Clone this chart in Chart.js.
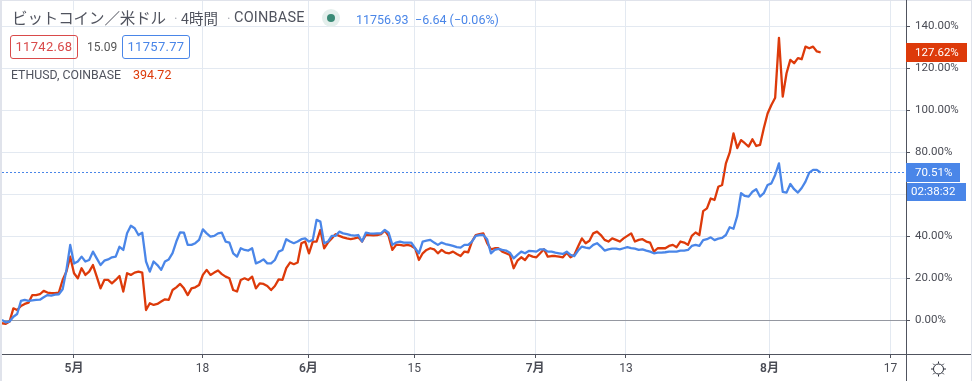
<!DOCTYPE html>
<html lang="ja">
<head>
<meta charset="utf-8">
<title>BTCUSD ETHUSD</title>
<script src="https://cdn.jsdelivr.net/npm/chart.js@4"></script>
<style>
  html, body { margin: 0; padding: 0; background: #fff; }
  #wrap { position: relative; width: 972px; height: 381px; overflow: hidden; }
  canvas { position: absolute; left: 0; top: 0; }
  .t { position: absolute; white-space: nowrap; font-family: Roboto, "Noto Sans CJK JP", sans-serif; line-height: 1; }
  .title { font-family: "Noto Sans CJK JP", Roboto, sans-serif; font-size: 15.5px; color: #50535e; top: 10px; background: rgba(255,255,255,.7); }
  .box { border: 1px solid; border-radius: 3px; box-sizing: border-box; height: 24px; top: 35px; width: 68px; text-align: center; font-size: 13px; line-height: 22px; letter-spacing: .3px; }
  .blue { color: #4a86e8; }
  .dot { position: absolute; border-radius: 50%; }
</style>
</head>
<body>
<div id="wrap">
  <canvas id="chart" width="972" height="381"></canvas>
  <span class="t title" style="left:12px;letter-spacing:-.1px">ビットコイン／米ドル</span>
  <span class="t title" style="left:173px;font-size:10px;top:13px;background:none;color:#9598a1">·</span>
  <span class="t title" style="left:181px;font-size:14.5px;top:11px">4時間</span>
  <span class="t title" style="left:226px;font-size:10px;top:13px;background:none;color:#9598a1">·</span>
  <span class="t title" style="left:234px;font-family:Roboto;font-size:14.5px;top:11px;letter-spacing:.2px">COINBASE</span>
  <span class="dot" style="left:322px;top:9px;width:18px;height:18px;background:#e4efec"></span>
  <span class="dot" style="left:327px;top:14px;width:8px;height:8px;background:#3a8a76"></span>
  <span class="t blue" style="left:356px;top:14px;font-size:12.5px">11756.93</span>
  <span class="t blue" style="left:415px;top:14px;font-size:12.5px">−6.64 (−0.06%)</span>
  <span class="t box" style="left:10px;color:#d94a4a;border-color:#d94a4a">11742.68</span>
  <span class="t" style="left:87px;top:41px;font-size:12px;color:#555">15.09</span>
  <span class="t box" style="left:122px;color:#4a86e8;border-color:#4a86e8">11757.77</span>
  <span class="t" style="left:11px;top:69px;font-size:12.3px;color:#50535e">ETHUSD, COINBASE</span>
  <span class="t" style="left:133px;top:69px;font-size:12.5px;color:#dd3a0a">394.72</span>
</div>
<script>
const firstDay = -9.52;   // days from 1 May to the left edge of the plot
const stepDays = 0.5013;

const btcPct = [
  0.2,-1,-0.6,1.7,3,9.2,9.7,9.2,9.5,9.7,9.8,11,12,11.7,12.2,12.4,14.8,24,35.9,27,
  28,30.3,28,28.7,32.7,29.5,26.3,28.4,29,30,30.3,35,33.5,41.4,45,43.8,40.6,41.7,28,23.2,
  28,26.3,24,28,29,32,37.5,41.9,41.7,35.9,35.9,36.7,38.3,43.3,41.4,39.8,40.2,41.4,41.7,37.5,
  37,31.9,30.3,34.3,33.5,33.2,34.3,27.1,27.9,29,27.1,27.1,28.7,32.7,33.5,38.6,37.5,36.7,37.5,38.6,
  39,37.5,38.3,47.8,47,36.7,37.5,40.2,40.2,42.2,41.4,41,40.5,40.3,40.6,37.5,41.7,41.4,41.3,41.4,
  41.4,43,41.7,35.9,37,37.5,37,37,37,34.3,31.9,37.5,37.9,38.3,37,35.9,37,36.3,35.9,35.4,
  34.8,34.6,35.9,35.9,37.5,40.2,40.6,40.6,38.6,31.9,33.5,34,33.5,33.2,32.2,29.5,31.1,32.7,31.9,33,
  32.9,32.7,33.8,33.8,32.7,32.7,32.2,31.9,31.6,32.7,31.1,30.6,33.2,35.1,34.6,34.3,35.9,36.7,35.1,33.2,
  33.8,34.1,34.1,33.8,34.3,34.8,34.4,34.1,33.5,33.8,33.2,32.7,31.9,32.2,32.2,32.4,32.7,32.7,32.7,33.2,
  33.2,33.5,35.4,35.9,35.4,38.2,38.6,39.5,38.2,38.9,39.2,40.6,44.3,43.6,49.7,60.5,59.2,58.9,61.2,62.4,
  58.9,60.5,64.4,65.2,69.2,74.7,61.2,60.8,64.9,62.4,60.8,63,66,70.3,71.6,71.6,70.3
];
const ethPct = [
  -1.4,-1.7,-0.6,5.7,4.9,6.8,7.8,8.4,12,12,12.4,14,13.2,12.9,12.9,13.2,19.2,23.2,30.3,22.4,
  20,24.8,21.6,23.2,26.3,20.8,15.2,19.2,19.2,17.6,19.2,21.1,13.7,22.4,21.6,22.7,23.2,22.7,4.9,8.1,
  7.3,7.8,8.9,10,9.7,14.4,15.7,17.3,15.2,12,15.2,15.7,16.8,21.6,24,21.6,22.7,23.7,22,20.8,
  20,14.4,13.7,19.2,20,19.2,20.8,15.2,17.6,17.3,16.3,14.4,16.3,19.5,19.2,24.8,27.5,26.7,27.5,36.7,
  37.5,31.9,37.5,37.5,43,34.3,37,39,41,40.2,39.5,39,38.7,39,39.5,37.5,40.6,40.6,40.5,40.6,
  41,42.7,40.2,33.5,35.9,35.9,35.6,35.9,35.4,34.3,28.7,31.9,33.5,34.3,33.8,31.9,33.5,32.2,31.9,32.7,
  31.6,30.6,32.7,32.4,37.5,40.6,41,41.4,36.7,33.8,34.3,34.3,32.7,31.9,31.1,24.8,28.4,30,28.7,31.1,
  30.3,30,31.9,33.8,30.3,30.6,30.6,30.3,30,32.2,30,31.1,35.1,39,36.7,37.9,41.4,42.2,40.6,38.3,
  37.5,39,38.3,37.5,39,40.2,41.4,37.5,38.3,38.6,37.5,37,32.7,34.3,34.3,34.3,35.4,35.9,34.8,37.5,
  37,35.9,40.2,41.8,40.6,52,53.3,58,57.3,63.6,64.4,74.7,79.8,89,82,85.8,84.3,82.7,86.2,83,
  83.5,91.4,98.5,102.5,106,134.5,106.5,117.6,124,122.4,124.8,124.3,130.3,129.5,130.3,128,127.6
];

const xTickDays = [0, 17, 31, 45, 61, 73, 92, 108];
const xTickLabels = ['5月', '18', '6月', '15', '7月', '13', '8月', '17'];
const yTickValues = [0, 20, 40, 60, 80, 100, 120, 140];

const ethLast = 127.62;
const btcLast = 70.51;
const countdown = '02:38:32';

const BLUE = '#4a86e8';
const RED = '#dd3a0a';
const GRID = '#e3e9f1';
const AXIS = '#50535e';
const TEXT = '#4a4c55';
const FONT = 'Roboto, sans-serif';

const toPoints = vals => vals.map((v, i) => ({ x: firstDay + i * stepDays, y: v }));

const overlay = {
  id: 'overlay',
  afterDatasetsDraw(chart) {
    const { ctx, chartArea: a, scales: { y } } = chart;
    const priceY = Math.round(y.getPixelForValue(btcLast)) + 0.5;
    ctx.save();
    ctx.strokeStyle = BLUE;
    ctx.lineWidth = 1;
    ctx.setLineDash([2, 2]);
    ctx.beginPath();
    ctx.moveTo(a.left, priceY);
    ctx.lineTo(a.right, priceY);
    ctx.stroke();
    ctx.setLineDash([]);

    // outer frame and axis lines
    ctx.fillStyle = '#e0e3eb';
    ctx.fillRect(0, 0, 2, 381);
    ctx.fillRect(0, 0, 972, 1);
    ctx.fillRect(971, 0, 1, 381);
    ctx.fillStyle = AXIS;
    ctx.fillRect(906, 0, 1, 381);
    ctx.fillRect(2, 354, 969, 1);

    const badge = (top, h, w, color, label, left = 906) => {
      ctx.fillStyle = color;
      ctx.fillRect(left, top, w, h);
      ctx.fillStyle = '#fff';
      ctx.font = '11.5px ' + FONT;
      ctx.textBaseline = 'middle';
      ctx.textAlign = 'left';
      ctx.fillText(label, left === 906 ? 915 : 911, top + h / 2 + 0.5);
    };
    badge(Math.round(y.getPixelForValue(ethLast)) - 9, 19, 61, RED, ethLast.toFixed(2) + '%');
    badge(priceY - 9.5, 19, 54, BLUE, btcLast.toFixed(2) + '%');
    badge(183, 18, 59, BLUE, countdown, 907);

    // settings sun
    const cx = 938.5, cy = 369;
    ctx.strokeStyle = '#2a2e39';
    ctx.lineWidth = 1;
    ctx.beginPath();
    ctx.arc(cx, cy, 5, 0, Math.PI * 2);
    ctx.stroke();
    for (let k = 0; k < 8; k++) {
      const t = k * Math.PI / 4;
      ctx.beginPath();
      ctx.moveTo(cx + Math.cos(t) * 5.5, cy + Math.sin(t) * 5.5);
      ctx.lineTo(cx + Math.cos(t) * 7.5, cy + Math.sin(t) * 7.5);
      ctx.stroke();
    }
    ctx.restore();
  }
};

new Chart(document.getElementById('chart'), {
  type: 'line',
  data: {
    datasets: [
      { label: 'BTCUSD', data: toPoints(btcPct), borderColor: BLUE, borderWidth: 2.3, borderJoinStyle: 'round', pointRadius: 0, tension: 0 },
      { label: 'ETHUSD', data: toPoints(ethPct), borderColor: RED, borderWidth: 2.3, borderJoinStyle: 'round', pointRadius: 0, tension: 0 }
    ]
  },
  options: {
    responsive: false,
    animation: false,
    layout: { padding: { left: 2, top: 0, right: 0, bottom: 0 } },
    plugins: { legend: { display: false }, tooltip: { enabled: false }, title: { display: false } },
    scales: {
      x: {
        type: 'linear',
        min: firstDay,
        max: 110.05,
        afterFit: s => { s.height = 27; s.paddingLeft = 0; s.paddingRight = 0; },
        afterBuildTicks: s => { s.ticks = xTickDays.map(v => ({ value: v })); },
        grid: { color: GRID, lineWidth: 1, tickColor: AXIS, tickLength: 4 },
        border: { display: false },
        ticks: {
          color: TEXT,
          padding: 4,
          maxRotation: 0,
          autoSkip: false,
          font: c => ({ family: FONT + ', "Noto Sans CJK JP"', size: 12, weight: c.index % 2 === 0 ? '600' : '400' }),
          callback: (v) => xTickLabels[xTickDays.indexOf(v)]
        }
      },
      y: {
        position: 'right',
        min: -16.05,
        max: 152.5,
        afterFit: s => { s.width = 66; s.paddingTop = 0; s.paddingBottom = 0; },
        afterBuildTicks: s => { s.ticks = yTickValues.map(v => ({ value: v })); },
        grid: {
          color: c => (c.tick && c.tick.value === 0 ? '#9598a1' : GRID),
          lineWidth: 1,
          tickColor: AXIS,
          tickLength: 4
        },
        border: { display: false },
        ticks: {
          color: TEXT,
          padding: 5,
          font: { family: FONT, size: 11.5 },
          callback: v => v.toFixed(2) + '%'
        }
      }
    }
  },
  plugins: [overlay]
});
</script>
</body>
</html>
